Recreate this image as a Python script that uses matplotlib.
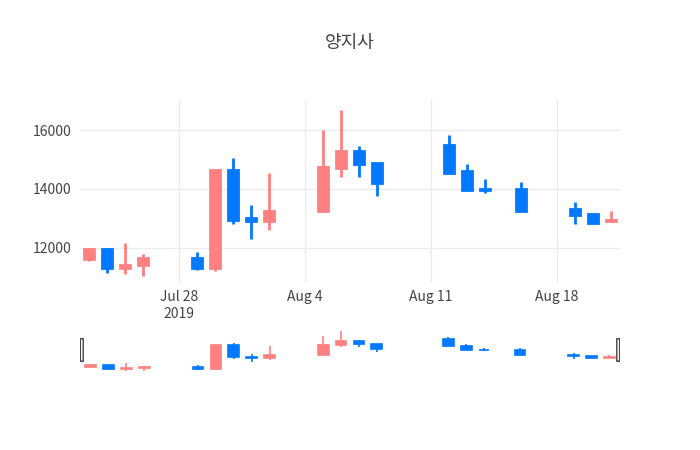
import matplotlib
matplotlib.use("Agg")
import matplotlib.pyplot as plt
import matplotlib.dates as mdates
from matplotlib.patches import Rectangle, FancyBboxPatch
import datetime as dt

plt.rcParams['font.family'] = ['Noto Sans CJK KR', 'DejaVu Sans']

dates = ["2019-07-23","2019-07-24","2019-07-25","2019-07-26","2019-07-29","2019-07-30",
         "2019-07-31","2019-08-01","2019-08-02","2019-08-05","2019-08-06","2019-08-07",
         "2019-08-08","2019-08-12","2019-08-13","2019-08-14","2019-08-16","2019-08-19",
         "2019-08-20","2019-08-21"]
opens  = [11600,11950,11300,11400,11650,11300,14650,13000,12900,13250,14700,15300,14900,15500,14600,14000,14000,13300,13150,12900]
highs  = [12000,12000,12150,11800,11850,14650,15050,13450,14550,16000,16700,15450,14900,15850,14850,14350,14250,13550,13150,13250]
lows   = [11550,11150,11100,11050,11250,11200,12800,12300,12600,13200,14400,14400,13750,14550,13950,13850,13250,12800,12850,12900]
closes = [11950,11300,11400,11650,11300,14650,12950,12900,13250,14750,15300,14850,14200,14550,13950,13950,13250,13100,12850,12950]

UP = "#FF8080"
DOWN = "#0078FF"
txt = "#444444"

x = [mdates.date2num(dt.datetime.strptime(d, "%Y-%m-%d")) for d in dates]
xmin = mdates.date2num(dt.datetime(2019,7,22,12))
xmax = mdates.date2num(dt.datetime(2019,8,21,12))

fig = plt.figure(figsize=(7,4.5), dpi=100)
ax = fig.add_axes([80/700, 1-282/450, 540/700, 182/450])
sl = fig.add_axes([80/700, 1-372/450, 540/700, 44/450])

def draw(a, lw, w):
    for xi, o, h, l, c in zip(x, opens, highs, lows, closes):
        col = UP if c >= o else DOWN
        a.plot([xi, xi], [l, h], color=col, lw=lw, solid_capstyle='butt', zorder=3)
        lo, hi = min(o, c), max(o, c)
        a.add_patch(Rectangle((xi - w/2, lo), w, max(hi - lo, 1), facecolor=col,
                              edgecolor=col, lw=lw, zorder=4))

draw(ax, 2, 0.6)
ax.set_xlim(xmin, xmax)
ax.set_ylim(10830, 17030)
ax.set_yticks([12000, 14000, 16000])
ax.set_yticklabels(["12000", "14000", "16000"])
ticks = [mdates.date2num(dt.datetime(2019,m,d)) for m, d in [(7,28),(8,4),(8,11),(8,18)]]
ax.set_xticks(ticks)
ax.set_xticklabels(["Jul 28\n2019", "Aug 4", "Aug 11", "Aug 18"])
ax.grid(True, color="#EBEBEB", lw=1)
ax.set_axisbelow(True)
for s in ax.spines.values():
    s.set_visible(False)
ax.tick_params(length=0, colors=txt, labelsize=10, pad=6)

draw(sl, 1.2, 0.6)
sl.set_xlim(xmin - 0.1, xmax + 0.1)
sl.set_ylim(10900, 17100)
sl.axis('off')
for hx in [xmin, xmax]:
    sl.add_patch(FancyBboxPatch((hx - 0.08, 12400), 0.16, 3200, boxstyle="round,pad=0,rounding_size=0.05",
                                facecolor="white", edgecolor="#444444", lw=1, zorder=5,
                                mutation_aspect=1))

fig.text(350/700, 1-43/450, "양지사", ha="center", va="center", fontsize=13, color=txt)
fig.savefig("out.png", dpi=100, facecolor="white")
